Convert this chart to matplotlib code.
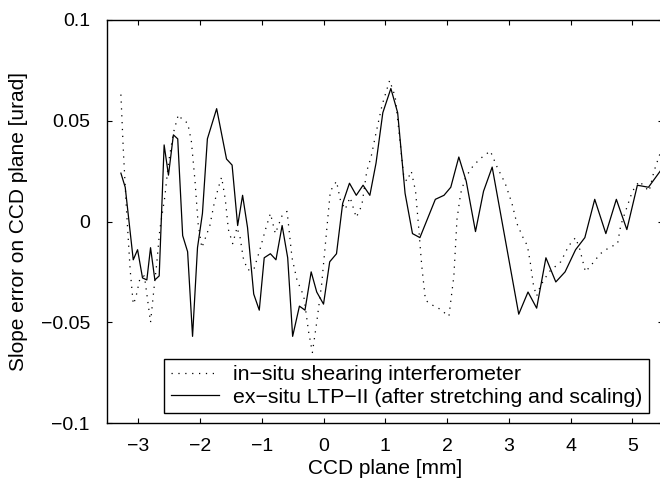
import matplotlib
matplotlib.use("Agg")
import matplotlib.pyplot as plt

plt.rcParams['font.family'] = ['Liberation Sans', 'DejaVu Sans']
plt.rcParams['font.size'] = 10

# in-situ shearing interferometer (dotted)
x_insitu = [-3.28, -3.24, -3.19, -3.13, -3.08, -3.04, -2.97, -2.90, -2.86, -2.80,
            -2.74, -2.70, -2.65, -2.57, -2.51, -2.43, -2.35, -2.27, -2.20, -2.14,
            -2.08, -2.03, -1.97, -1.91, -1.84, -1.77, -1.70, -1.65, -1.59, -1.54,
            -1.47, -1.40, -1.35, -1.30, -1.23, -1.13, -1.03, -0.94, -0.86, -0.78,
            -0.67, -0.59, -0.51, -0.43, -0.32, -0.24, -0.18, -0.11, -0.03, 0.04,
            0.11, 0.21, 0.27, 0.35, 0.43, 0.53, 0.62, 0.70, 0.77, 0.85,
            0.95, 1.07, 1.16, 1.23, 1.30, 1.35, 1.42, 1.49, 1.54, 1.59,
            1.65, 1.73, 1.86, 2.03, 2.11, 2.16, 2.22, 2.30, 2.43, 2.57,
            2.70, 2.81, 2.94, 3.05, 3.13, 3.23, 3.30, 3.35, 3.40, 3.45,
            3.51, 3.65, 3.84, 3.97, 4.08, 4.15, 4.24, 4.35, 4.48, 4.62,
            4.76, 4.81, 4.91, 5.00, 5.11, 5.27, 5.35, 5.45]
y_insitu = [0.063, 0.035, 0.006, -0.024, -0.041, -0.038, -0.028, -0.027, -0.036, -0.050,
            -0.032, -0.021, -0.004, 0.012, 0.029, 0.044, 0.053, 0.050, 0.049, 0.040,
            0.020, -0.001, -0.013, -0.008, -0.002, 0.009, 0.017, 0.022, 0.011, -0.004,
            -0.011, -0.003, -0.008, -0.018, -0.024, -0.024, -0.014, -0.004, 0.004, -0.006,
            0.003, 0.005, -0.018, -0.029, -0.037, -0.055, -0.065, -0.050, -0.031, -0.008,
            0.015, 0.020, 0.011, 0.006, 0.012, 0.002, 0.008, 0.025, 0.032, 0.044,
            0.058, 0.070, 0.062, 0.042, 0.022, 0.020, 0.025, 0.015, -0.003, -0.022,
            -0.039, -0.041, -0.043, -0.047, -0.027, 0.001, 0.014, 0.022, 0.028, 0.032,
            0.035, 0.027, 0.019, 0.009, -0.001, -0.008, -0.012, -0.021, -0.032, -0.037,
            -0.032, -0.025, -0.020, -0.012, -0.008, -0.014, -0.025, -0.021, -0.016, -0.013,
            -0.011, -0.002, 0.007, 0.015, 0.020, 0.015, 0.025, 0.034]

# ex-situ LTP-II (solid)
x_exsitu = [-3.28, -3.21, -3.08, -3.01, -2.93, -2.86, -2.80, -2.73, -2.66, -2.58,
            -2.51, -2.43, -2.36, -2.28, -2.20, -2.12, -2.04, -1.96, -1.88, -1.73,
            -1.57, -1.48, -1.39, -1.31, -1.23, -1.13, -1.04, -0.96, -0.86, -0.77,
            -0.67, -0.58, -0.50, -0.39, -0.30, -0.20, -0.11, 0.00, 0.10, 0.21,
            0.31, 0.42, 0.53, 0.64, 0.75, 0.85, 0.96, 1.09, 1.20, 1.32,
            1.44, 1.56, 1.81, 1.95, 2.06, 2.19, 2.31, 2.46, 2.59, 2.73,
            3.16, 3.31, 3.45, 3.60, 3.76, 3.91, 4.08, 4.23, 4.39, 4.57,
            4.74, 4.91, 5.08, 5.26, 5.45]
y_exsitu = [0.024, 0.017, -0.019, -0.014, -0.028, -0.029, -0.013, -0.029, -0.027, 0.038,
            0.023, 0.043, 0.041, -0.007, -0.015, -0.057, -0.013, 0.004, 0.041, 0.056,
            0.031, 0.028, -0.002, 0.013, -0.003, -0.036, -0.044, -0.018, -0.016, -0.019,
            -0.002, -0.018, -0.057, -0.042, -0.044, -0.025, -0.035, -0.041, -0.020, -0.016,
            0.009, 0.019, 0.013, 0.018, 0.013, 0.029, 0.054, 0.066, 0.054, 0.014,
            -0.006, -0.008, 0.011, 0.013, 0.017, 0.032, 0.020, -0.005, 0.015, 0.027,
            -0.046, -0.035, -0.043, -0.018, -0.030, -0.025, -0.014, -0.008, 0.011, -0.006,
            0.011, -0.004, 0.018, 0.017, 0.025]

x_ticks = [-3, -2, -1, 0, 1, 2, 3, 4, 5]
y_ticks = [-0.1, -0.05, 0, 0.05, 0.1]
y_ticklabels = ['\u22120.1', '\u22120.05', '0', '0.05', '0.1']
x_ticklabels = ['\u22123', '\u22122', '\u22121', '0', '1', '2', '3', '4', '5']

W, H = 660, 487
ax_l, ax_r, ax_t, ax_b = 107.3, 663.3, 20, 423
fig = plt.figure(figsize=(W / 100, H / 100), dpi=100)
ax = fig.add_axes([ax_l / W, 1 - ax_b / H, (ax_r - ax_l) / W, (ax_b - ax_t) / H])

ax.plot(x_insitu, y_insitu, color='black', linestyle=(0, (1, 4.5)), linewidth=0.9,
        label='in\u2212situ shearing interferometer')
ax.plot(x_exsitu, y_exsitu, color='black', linestyle='-', linewidth=0.9,
        label='ex\u2212situ LTP\u2212II (after stretching and scaling)')

ax.set_xlim(-3.5, 5.5)
ax.set_ylim(-0.1, 0.1)
ax.set_xticks(x_ticks)
ax.set_xticklabels(x_ticklabels)
ax.set_yticks(y_ticks)
ax.set_yticklabels(y_ticklabels)
ax.tick_params(direction='in', length=3.6, width=0.8, top=True, right=True,
               labelsize=14, colors='black')
ax.tick_params(axis='x', pad=11)
ax.tick_params(axis='y', pad=12.5)
for s in ax.spines.values():
    s.set_linewidth(1.0)
    s.set_color('black')

ax.set_xlabel('CCD plane [mm]', fontsize=15, va='center')
ax.xaxis.set_label_coords(0.5, (ax_b - 468) / (ax_b - ax_t))
ax.set_ylabel('Slope error on CCD plane [urad]', fontsize=15, va='center')
ax.yaxis.set_label_coords((19 - ax_l) / (ax_r - ax_l), 0.5)

# legend box: approx x 161..649 px, y 354..413 px
leg = ax.legend(loc='lower right', fontsize=15.3, frameon=True, fancybox=False,
                edgecolor='black', framealpha=1, handlelength=2.3, borderpad=0.3,
                labelspacing=0.15, handletextpad=0.65,
                bbox_to_anchor=((649 - ax_l) / (ax_r - ax_l), (ax_b - 413) / (ax_b - ax_t)),
                borderaxespad=0)
leg.get_frame().set_linewidth(1.0)

fig.savefig('out.png', dpi=100)
